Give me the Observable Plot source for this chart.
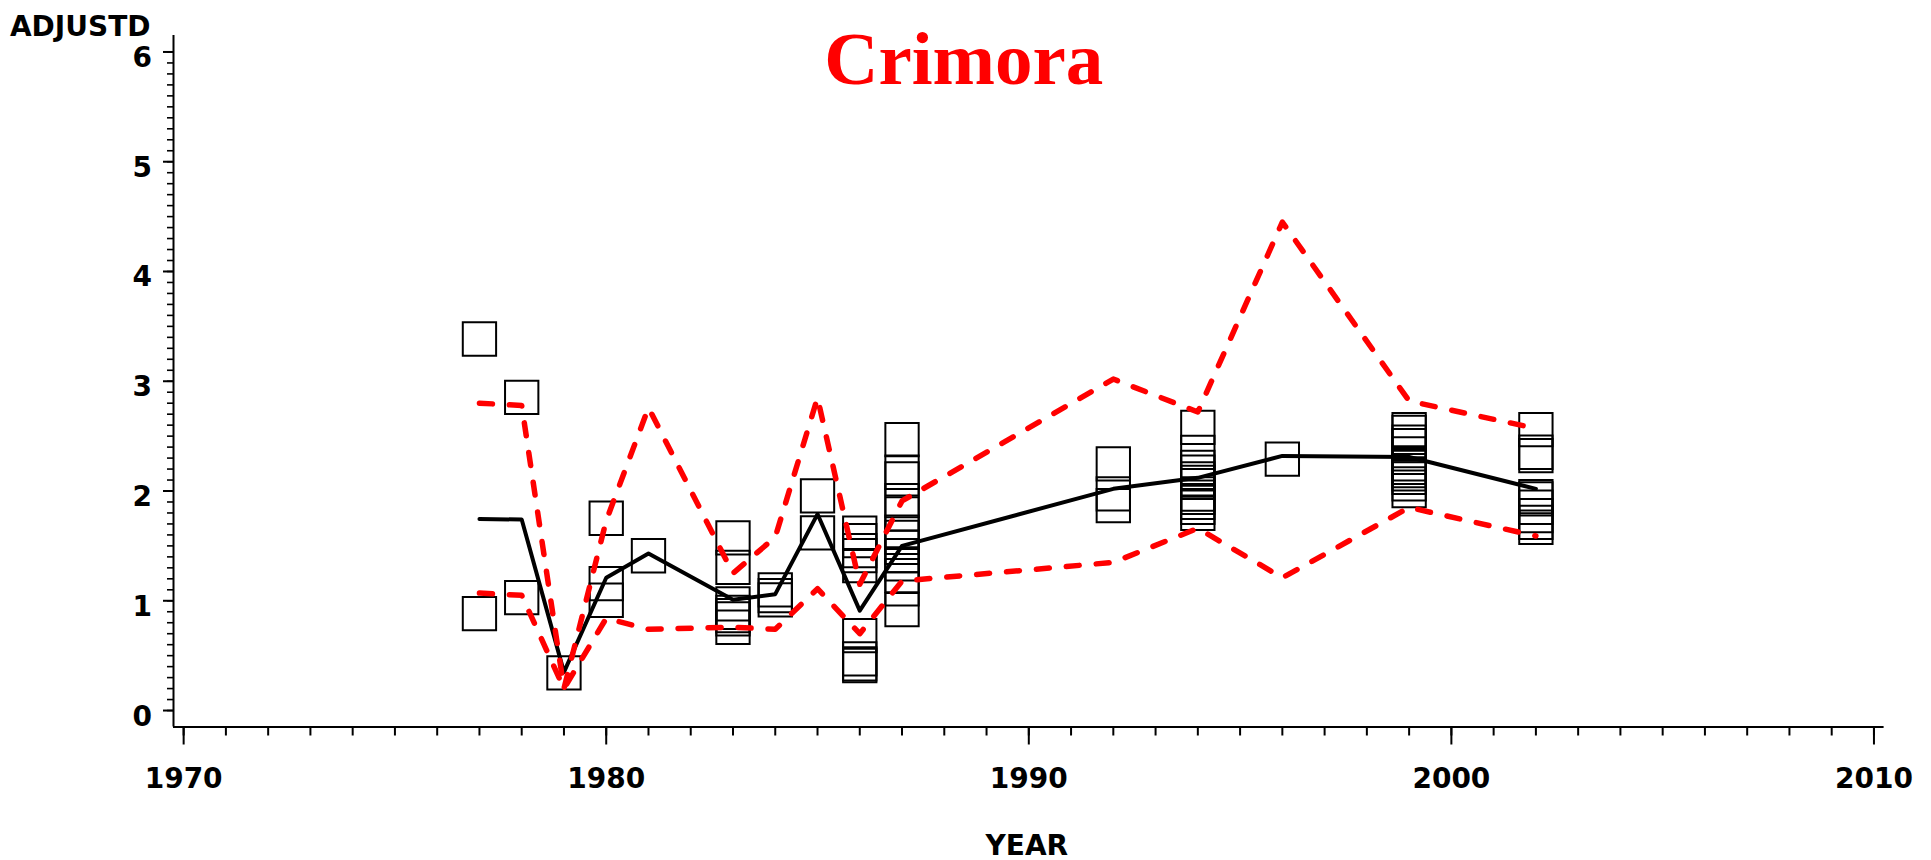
<!DOCTYPE html>
<html><head><meta charset="utf-8">
<script src="https://cdn.jsdelivr.net/npm/d3@7"></script>
<script src="https://cdn.jsdelivr.net/npm/@observablehq/plot@0.6"></script>
<style>html,body{margin:0;padding:0;background:#fff;overflow:hidden}</style>
</head><body><div id="chart"></div>
<script>
// Observations (ADJUSTD) per YEAR
const obsYears = [1977, 1978, 1979, 1980, 1981, 1983, 1984, 1985, 1986, 1987, 1992, 1994, 1996, 1999, 2002];
const obsValues = [
  [3.385, 0.883],
  [2.853, 1.029],
  [0.343],
  [1.752, 1.157, 1.005],
  [1.41],
  [1.573, 1.305, 0.971, 0.895, 0.865, 0.835, 0.759],
  [1.099, 1.047, 1.008],
  [1.955, 1.618],
  [1.615, 1.548, 1.457, 1.412, 1.321, 0.683, 0.47, 0.425, 0.41],
  [2.468, 2.171, 2.110, 1.913, 1.791, 1.624, 1.578, 1.487, 1.412, 1.336, 1.229, 1.108, 0.920],
  [2.247, 1.974, 1.867],
  [2.580, 2.352, 2.216, 2.171, 2.110, 2.079, 1.973, 1.943, 1.897, 1.852, 1.797],
  [2.29],
  [2.559, 2.535, 2.444, 2.413, 2.338, 2.247, 2.216, 2.186, 2.156, 2.125, 2.065, 2.004],
  [2.559, 2.353, 2.323, 1.949, 1.928, 1.852, 1.776, 1.715, 1.670]
];
// Summary lines
const lineYears   = [1977, 1978, 1979, 1980, 1981, 1983, 1984, 1985, 1986, 1987, 1992, 1994, 1996, 1999, 2002];
const meanValues  = [1.745, 1.74, 0.35, 1.21, 1.43, 1.01, 1.06, 1.79, 0.91, 1.50, 2.02, 2.12, 2.32, 2.31, 2.02];
const upperValues = [2.80, 2.78, 0.20, 1.73, 2.76, 1.25, 1.58, 2.85, 1.15, 1.91, 3.02, 2.72, 4.45, 2.82, 2.57];
const lowerValues = [1.07, 1.05, 0.20, 0.84, 0.74, 0.76, 0.74, 1.11, 0.70, 1.18, 1.35, 1.66, 1.21, 1.85, 1.59];
// Axes
const xMajorTicks = [1970, 1980, 1990, 2000, 2010];
const xMinorTicks = d3.range(1970, 2011);
const yMajorTicks = [0, 1, 2, 3, 4, 5, 6];
const yMinorTicks = d3.range(0, 61).map(i => i / 10);
const xDomain = [1969.76, 2010.24];
const yDomain = [-0.15, 6.15];
const titleText = "Crimora";
const xLabel = "YEAR";
const yLabel = "ADJUSTD";

const observations = obsYears.flatMap((yr, i) => obsValues[i].map(v => ({year: yr, value: v})));
const lines = lineYears.map((yr, i) => ({year: yr, mean: meanValues[i], upper: upperValues[i], lower: lowerValues[i]}));

const chart = Plot.plot({
  width: 1931,
  height: 860,
  marginLeft: 173,
  marginRight: 47.4,
  marginTop: 35,
  marginBottom: 133.5,
  style: {fontFamily: "DejaVu Sans", fontWeight: "bold", background: "white", color: "black"},
  x: {domain: xDomain, axis: null, label: null},
  y: {domain: yDomain, axis: null, label: null},
  marks: [
    Plot.ruleX([xDomain[0]], {stroke: "black", strokeWidth: 2}),
    Plot.ruleY([yDomain[0]], {stroke: "black", strokeWidth: 2}),
    Plot.axisX({ticks: xMinorTicks, tickSize: 9, tickFormat: () => "", strokeWidth: 2, label: null}),
    Plot.axisX({ticks: xMajorTicks, tickSize: 18, tickPadding: 23, tickFormat: d => String(d), fontSize: 28, fontWeight: "bold", strokeWidth: 2, label: null}),
    Plot.axisY({ticks: yMinorTicks, tickSize: 6, tickFormat: () => "", strokeWidth: 1.6, label: null}),
    Plot.axisY({ticks: yMajorTicks, tickSize: 10, tickFormat: () => "", strokeWidth: 2, label: null}),
    Plot.text(yMajorTicks, {y: d => d, text: d => String(d), frameAnchor: "left", textAnchor: "end", dx: -21.5, dy: 6, fontSize: 28, fontWeight: "bold"}),
    Plot.dot(observations, {x: "year", y: "value", symbol: "square", r: 18.8, stroke: "black", strokeWidth: 2, fill: "none"}),
    Plot.line(lines, {x: "year", y: "mean", stroke: "black", strokeWidth: 4}),
    Plot.line(lines, {x: "year", y: "upper", stroke: "#ff0000", strokeWidth: 5.5, strokeDasharray: "13,17"}),
    Plot.line(lines, {x: "year", y: "lower", stroke: "#ff0000", strokeWidth: 5.5, strokeDasharray: "13,17"}),
    Plot.text([titleText], {text: d => d, frameAnchor: "top", lineAnchor: "bottom", dx: -65, dy: 48, fontFamily: "Liberation Serif", fontSize: 75, fontWeight: "bold", fill: "#ff0000"}),
    Plot.text([yLabel], {text: d => d, frameAnchor: "top-left", textAnchor: "end", lineAnchor: "bottom", dx: -23, dy: 0, fontSize: 28, fontWeight: "bold"}),
    Plot.text([xLabel], {text: d => d, frameAnchor: "bottom", lineAnchor: "bottom", dx: -2, dy: 127.5, fontSize: 28, fontWeight: "bold"})
  ]
});
document.getElementById("chart").appendChild(chart);
</script>
</body></html>
